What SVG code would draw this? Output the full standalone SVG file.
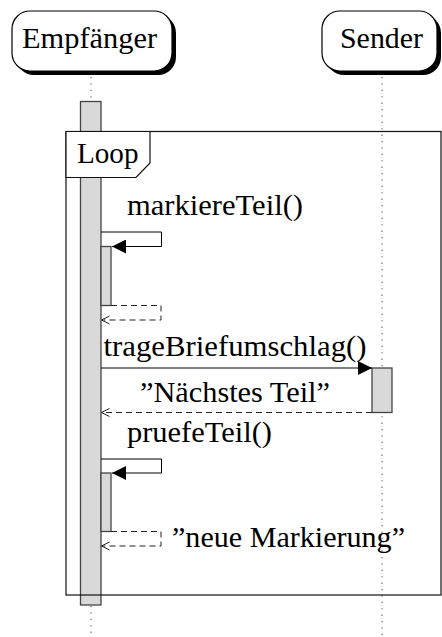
<svg xmlns="http://www.w3.org/2000/svg" width="442" height="637" viewBox="0 0 442 637">
  <defs>
    <style>
      .lbl { font-family: "Liberation Serif", serif; font-size: 28.5px; }
      .head { fill: #fff; stroke: #000; stroke-width: 1.2; }
      .shadow { fill: #000; }
      .life { stroke: #777; stroke-width: 1.3; stroke-dasharray: 1.3 5.1; fill: none; }
      .act { fill: #d9d9d9; stroke: #444; stroke-width: 1.3; }
      .call { fill: none; stroke: #000; stroke-width: 1; }
      .reply { fill: none; stroke: #222; stroke-width: 1; stroke-dasharray: 6 4; }
      .frame { fill: none; stroke: #111; stroke-width: 1.2; }
    </style>
    <marker id="solidHead" viewBox="0 0 14 14" refX="14" refY="7" markerWidth="14" markerHeight="14" markerUnits="userSpaceOnUse" orient="auto">
      <path d="M0,0 L14,7 L0,14 Z" fill="#000"/>
    </marker>
    <marker id="openHead" viewBox="0 0 10 10" refX="9" refY="5" markerWidth="10" markerHeight="10" markerUnits="userSpaceOnUse" orient="auto">
      <path d="M1,1 L9,5 L1,9" fill="none" stroke="#222" stroke-width="1"/>
    </marker>
  </defs>

  <!-- lifelines -->
  <g id="lifelines">
    <line class="life" x1="91" y1="77" x2="91" y2="101"/>
    <line class="life" x1="91" y1="606" x2="91" y2="637"/>
    <line class="life" x1="382" y1="77" x2="382" y2="637"/>
  </g>

  <!-- participant boxes -->
  <g id="empfaenger">
    <rect class="shadow" x="16" y="15" width="160" height="60" rx="18"/>
    <rect class="head" x="12" y="11" width="160" height="60" rx="18"/>
  </g>
  <g id="sender">
    <rect class="shadow" x="326" y="15" width="115" height="60" rx="18"/>
    <rect class="head" x="322" y="11" width="115" height="60" rx="18"/>
  </g>

  <!-- activations -->
  <g id="activations">
    <rect class="act" x="80.5" y="101.5" width="20.5" height="503.5"/>
    <rect class="act" x="101" y="246.5" width="10" height="59"/>
    <rect class="act" x="372" y="368" width="20" height="44.5"/>
    <rect class="act" x="101" y="473" width="10" height="58.5"/>
  </g>

  <!-- combined fragment: loop -->
  <g id="loop">
    <rect class="frame" x="66" y="131.5" width="375" height="463.5"/>
    <path d="M66,131.5 H150 V163 L136,177.5 H66 Z" fill="#fff" stroke="#111" stroke-width="1.2"/>
  </g>

  <!-- messages -->
  <g id="connectors">
    <path class="call" d="M101,232 H161.5 V246.5 H112" marker-end="url(#solidHead)"/>
    <path class="reply" d="M111,305.5 H161 V320 H101.5" marker-end="url(#openHead)"/>
    <path class="call" d="M101,368 H372" stroke="#555" stroke-width="1.4" marker-end="url(#solidHead)"/>
    <path class="reply" d="M372,412.5 H101.5" marker-end="url(#openHead)"/>
    <path class="call" d="M101,459 H161.5 V473 H112" marker-end="url(#solidHead)"/>
    <path class="reply" d="M111,531.5 H161 V546 H101.5" marker-end="url(#openHead)"/>
  </g>

  <!-- labels -->
  <text class="lbl" x="22" y="48" textLength="135" lengthAdjust="spacingAndGlyphs">Empfänger</text>
  <text class="lbl" x="340" y="48" textLength="83" lengthAdjust="spacingAndGlyphs">Sender</text>
  <text class="lbl" x="77" y="163" textLength="61.5" lengthAdjust="spacingAndGlyphs">Loop</text>
  <text class="lbl" x="127" y="214.5" textLength="176" lengthAdjust="spacingAndGlyphs">markiereTeil()</text>
  <text class="lbl" x="103.5" y="356" textLength="263" lengthAdjust="spacingAndGlyphs">trageBriefumschlag()</text>
  <text class="lbl" x="140" y="401.5" textLength="190" lengthAdjust="spacingAndGlyphs">”Nächstes Teil”</text>
  <text class="lbl" x="127" y="441.5" textLength="145" lengthAdjust="spacingAndGlyphs">pruefeTeil()</text>
  <text class="lbl" x="172" y="546.5" textLength="233" lengthAdjust="spacingAndGlyphs">”neue Markierung”</text>
</svg>
